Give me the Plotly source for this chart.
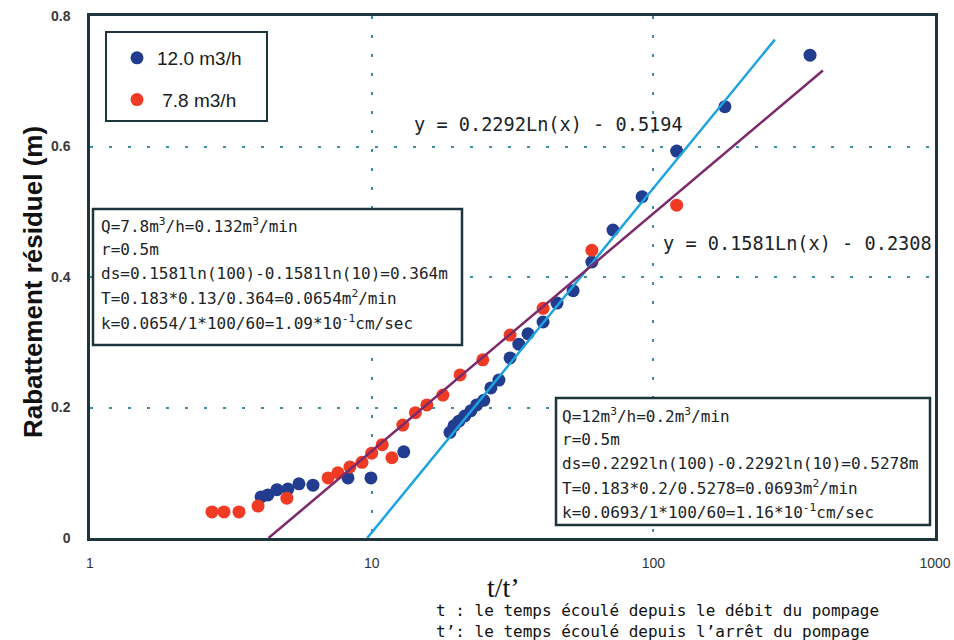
import numpy as np
import plotly.graph_objects as go

# Recovery test data: t/t' ratio vs residual drawdown
q12_ratio = [4.05, 4.28, 4.61, 5.04, 5.52, 6.19, 8.24, 9.94, 13.0, 18.97, 19.6, 20.4,
             21.4, 22.5, 23.6, 25.0, 26.5, 28.3, 31.0, 33.3, 35.9, 40.6, 45.5, 51.9,
             60.5, 71.9, 91.2, 121.0, 179.5, 360.0]
q12_drawdown = [0.063, 0.066, 0.074, 0.075, 0.083, 0.081, 0.092, 0.092, 0.132, 0.162,
                0.172, 0.179, 0.187, 0.195, 0.204, 0.211, 0.230, 0.242, 0.276, 0.297,
                0.313, 0.331, 0.360, 0.379, 0.423, 0.472, 0.523, 0.593, 0.661, 0.740]

q78_ratio = [2.71, 2.99, 3.38, 3.95, 5.0, 7.0, 7.59, 8.37, 9.24, 10.0, 10.9, 11.8,
             12.9, 14.3, 15.7, 17.9, 20.6, 24.8, 31.0, 40.6, 60.5, 121.0]
q78_drawdown = [0.040, 0.040, 0.040, 0.049, 0.061, 0.092, 0.100, 0.109, 0.116, 0.130,
                0.143, 0.123, 0.173, 0.192, 0.204, 0.219, 0.250, 0.273, 0.311, 0.352,
                0.441, 0.510]

# Logarithmic fits y = a*ln(x) + b and the extent of each drawn fit line
fit12 = (0.2292, -0.5194)
fit78 = (0.1581, -0.2308)
fit12_end = 270.0
fit78_end = 400.0

series_names = ["12.0 m3/h", " 7.8 m3/h"]
x_ticks = [1, 10, 100, 1000]
x_tick_text = ["1", "10", "100", "1000"]
y_ticks = [0, 0.2, 0.4, 0.6, 0.8]
y_tick_text = ["0", "0.2", "0.4", "0.6", "0.8"]

box78_lines = [
    "Q=7.8m<sup>3</sup>/h=0.132m<sup>3</sup>/min",
    "r=0.5m",
    "ds=0.1581ln(100)-0.1581ln(10)=0.364m",
    "T=0.183*0.13/0.364=0.0654m<sup>2</sup>/min",
    "k=0.0654/1*100/60=1.09*10<sup>-1</sup>cm/sec",
]
box12_lines = [
    "Q=12m<sup>3</sup>/h=0.2m<sup>3</sup>/min",
    "r=0.5m",
    "ds=0.2292ln(100)-0.2292ln(10)=0.5278m",
    "T=0.183*0.2/0.5278=0.0693m<sup>2</sup>/min",
    "k=0.0693/1*100/60=1.16*10<sup>-1</sup>cm/sec",
]
eq12_text = "y = 0.2292Ln(x) - 0.5194"
eq78_text = "y = 0.1581Ln(x) - 0.2308"
note_lines = [
    "t : le temps écoulé depuis le débit du pompage",
    "t’: le temps écoulé depuis l’arrêt du pompage",
]

W, H = 954, 640
PL, PR, PT, PB = 90, 935, 16, 538


def fx(p):
    return (p - PL) / (PR - PL)


def fy(p):
    return (PB - p) / (PB - PT)


def fit_line(coef, x_end):
    a, b = coef
    x0 = np.exp(-b / a)
    xs = np.geomspace(x0, x_end, 80)
    return xs, a * np.log(xs) + b


BLUE = "#223d8f"
RED = "#ef3a24"
LINE_BLUE = "#1ea3e0"
LINE_PURPLE = "#7b2a6b"
FRAME = "#1d363c"
GRID = "#3b8da6"
MONO = "DejaVu Sans Mono"
SANS = "Liberation Sans"

fig = go.Figure()
fig.add_trace(go.Scatter(x=q12_ratio, y=q12_drawdown, mode="markers", name=series_names[0],
                         legendgroup="a", marker=dict(color=BLUE, size=13)))
fig.add_trace(go.Scatter(x=q78_ratio, y=q78_drawdown, mode="markers", name=series_names[1],
                         legendgroup="b", marker=dict(color=RED, size=13)))

lx, ly = fit_line(fit12, fit12_end)
fig.add_trace(go.Scatter(x=lx, y=ly, mode="lines", showlegend=False,
                         line=dict(color=LINE_BLUE, width=2.5)))
lx, ly = fit_line(fit78, fit78_end)
fig.add_trace(go.Scatter(x=lx, y=ly, mode="lines", showlegend=False,
                         line=dict(color=LINE_PURPLE, width=2.5)))

annotations = []
shapes = []

# legend frame
shapes.append(dict(type="rect", xref="paper", yref="paper",
                   x0=fx(106), x1=fx(267), y0=fy(121), y1=fy(32),
                   line=dict(color=FRAME, width=2), fillcolor="white", layer="below"))


def text_box(lines, left, top, right, bottom, text_x, first_y, step):
    shapes.append(dict(type="rect", xref="paper", yref="paper",
                       x0=fx(left), x1=fx(right), y0=fy(bottom), y1=fy(top),
                       line=dict(color=FRAME, width=2.5), fillcolor="white"))
    for i, t in enumerate(lines):
        annotations.append(dict(text=t, xref="paper", yref="paper", x=fx(text_x),
                                y=fy(first_y + i * step), xanchor="left", yanchor="middle",
                                showarrow=False, font=dict(family=MONO, size=16, color="#1a2428")))


text_box(box78_lines, 93, 209, 462, 345, 99, 225, 24.3)
text_box(box12_lines, 556, 398, 930, 525, 560, 415, 24.2)

annotations.append(dict(text=eq12_text, xref="paper", yref="paper", x=fx(412), y=fy(125),
                        xanchor="left", yanchor="middle", showarrow=False,
                        font=dict(family=MONO, size=18.6, color="#1a2428")))
annotations.append(dict(text=eq78_text, xref="paper", yref="paper", x=fx(661), y=fy(243),
                        xanchor="left", yanchor="middle", showarrow=False,
                        font=dict(family=MONO, size=18.6, color="#1a2428")))

annotations.append(dict(text="t/t’", xref="paper", yref="paper", x=fx(503), y=fy(587),
                        xanchor="center", yanchor="middle", showarrow=False,
                        font=dict(family="Liberation Serif", size=28, color="#111")))
for i, t in enumerate(note_lines):
    annotations.append(dict(text=t, xref="paper", yref="paper", x=fx(434), y=fy(610 + i * 21),
                            xanchor="left", yanchor="middle", showarrow=False,
                            font=dict(family=MONO, size=16, color="#111")))

annotations.append(dict(text="<b>Rabattement résiduel (m)</b>", xref="paper", yref="paper",
                        x=fx(33), y=fy(282), xanchor="center", yanchor="middle",
                        textangle=-90, showarrow=False,
                        font=dict(family=SANS, size=26, color="#111")))

fig.update_layout(
    width=W, height=H,
    margin=dict(l=PL, r=W - PR, t=PT, b=H - PB),
    paper_bgcolor="white", plot_bgcolor="white",
    showlegend=True,
    legend=dict(x=fx(117), y=fy(39), xanchor="left", yanchor="top",
                bgcolor="rgba(0,0,0,0)", borderwidth=0, tracegroupgap=14,
                font=dict(family=SANS, size=19, color="#1a1a1a")),
    annotations=annotations,
    shapes=shapes,
    xaxis=dict(type="log", range=[0, 3], tickvals=x_ticks, ticktext=x_tick_text,
               showgrid=True, gridcolor=GRID, gridwidth=2, griddash="3px,16px",
               showline=True, mirror=True, linecolor=FRAME, linewidth=2.5,
               ticks="", ticklabelstandoff=10, zeroline=False, automargin=False,
               tickfont=dict(family=SANS, size=14, color="#333")),
    yaxis=dict(range=[0, 0.8], tickvals=y_ticks, ticktext=y_tick_text,
               showgrid=True, gridcolor=GRID, gridwidth=2, griddash="3px,16px",
               showline=True, mirror=True, linecolor=FRAME, linewidth=2.5,
               ticks="", ticklabelstandoff=14, zeroline=False, automargin=False,
               tickfont=dict(family=SANS, size=14, color="#3a3a3a", weight="bold")),
)

fig.write_html("out.html")
